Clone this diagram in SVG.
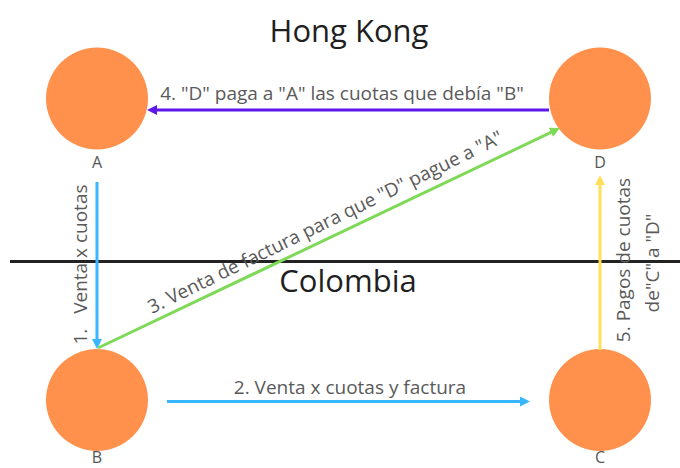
<svg xmlns="http://www.w3.org/2000/svg" width="680" height="468" viewBox="0 0 680 468">
<style>
.node{fill:#ff914d}
.title{font-family:"Open Sans","Liberation Sans",sans-serif;font-size:31px;fill:#1f1f1f;text-anchor:middle}
.nl{font-family:"Open Sans","Liberation Sans",sans-serif;font-size:16px;fill:#555;text-anchor:middle}
.lbl{font-family:"Open Sans","Liberation Sans",sans-serif;font-size:19px;fill:#5a5a5a;text-anchor:middle;white-space:pre}
.c{fill:none;stroke-width:3}
</style>
<defs>
<marker id="mPurple" viewBox="0 0 10 10" refX="4" refY="5" markerWidth="10" markerHeight="10" markerUnits="userSpaceOnUse" orient="auto"><path d="M0,0 L10,5 L0,10 z" fill="#5e17eb"/></marker>
<marker id="mBlue" viewBox="0 0 10 10" refX="4" refY="5" markerWidth="10" markerHeight="10" markerUnits="userSpaceOnUse" orient="auto"><path d="M0,0 L10,5 L0,10 z" fill="#38b6ff"/></marker>
<marker id="mGreen" viewBox="0 0 10 10" refX="4" refY="5" markerWidth="10" markerHeight="10" markerUnits="userSpaceOnUse" orient="auto"><path d="M0,0 L10,5 L0,10 z" fill="#7ed957"/></marker>
<marker id="mYellow" viewBox="0 0 10 10" refX="4" refY="5" markerWidth="10" markerHeight="10" markerUnits="userSpaceOnUse" orient="auto"><path d="M0,0 L10,5 L0,10 z" fill="#ffde59"/></marker>
</defs>
<rect width="680" height="468" fill="#ffffff"/>
<g id="regions">
<text class="title" x="349" y="42">Hong Kong</text>
<line x1="10" y1="261.5" x2="680" y2="261.5" stroke="#222" stroke-width="3"/>
<text class="title" x="348" y="292">Colombia</text>
</g>
<g id="node-A"><circle class="node" cx="97" cy="98.5" r="51"/><text class="nl" x="97" y="168">A</text></g>
<g id="node-D"><circle class="node" cx="600" cy="98.5" r="51"/><text class="nl" x="600" y="168">D</text></g>
<g id="node-B"><circle class="node" cx="97" cy="400" r="51"/><text class="nl" x="97" y="463">B</text></g>
<g id="node-C"><circle class="node" cx="600" cy="400" r="51"/><text class="nl" x="600" y="463">C</text></g>
<g id="connectors">
<line class="c" x1="97" y1="182" x2="97" y2="343" stroke="#38b6ff" marker-end="url(#mBlue)"/>
<line class="c" x1="167" y1="401.5" x2="524" y2="401.5" stroke="#38b6ff" marker-end="url(#mBlue)"/>
<line class="c" x1="98" y1="348" x2="554.6" y2="130.6" stroke="#7ed957" marker-end="url(#mGreen)"/>
<line class="c" x1="549" y1="110" x2="153" y2="110" stroke="#5e17eb" marker-end="url(#mPurple)"/>
<line class="c" x1="600" y1="350" x2="600" y2="181" stroke="#ffde59" marker-end="url(#mYellow)"/>
<text class="lbl" transform="translate(87,264.5) rotate(-90)">1.   Venta x cuotas</text>
<text class="lbl" x="350" y="394">2. Venta x cuotas y factura</text>
<text class="lbl" transform="translate(328,228) rotate(-26)">3. Venta de factura para que "D" pague a "A"</text>
<text class="lbl" x="342" y="100">4. "D" paga a "A" las cuotas que debía "B"</text>
<text class="lbl" transform="translate(630,260) rotate(-90)">5. Pagos de cuotas</text>
<text class="lbl" transform="translate(659,263) rotate(-90)">de"C" a "D"</text>
</g>
</svg>
